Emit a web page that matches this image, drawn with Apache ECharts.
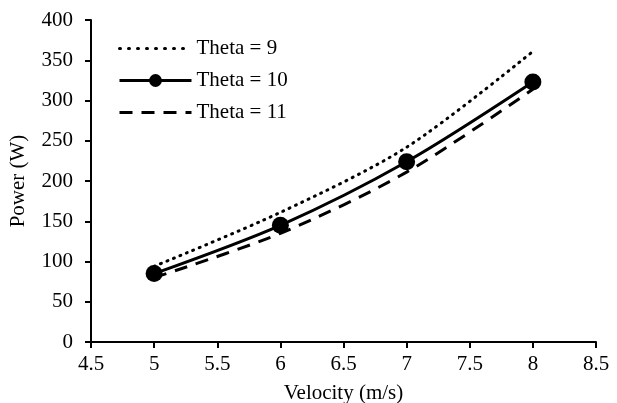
<!DOCTYPE html>
<html>
<head>
<meta charset="utf-8">
<script src="https://cdn.jsdelivr.net/npm/echarts@6/dist/echarts.min.js"></script>
<style>
html,body{margin:0;padding:0;background:#fff;}
#chart{width:617px;height:403px;}
</style>
</head>
<body>
<div id="chart"></div>
<script>
const velocity = [5, 6, 7, 8];
const theta9 = [94, 161, 242, 361];
const theta10 = [85, 145, 224, 323];
const theta11 = [80, 135, 211, 314];
const seriesNames = ['Theta = 9', 'Theta = 10', 'Theta = 11'];

const pairs = (ys) => velocity.map((x, i) => [x, ys[i]]);
const font = 'Liberation Serif';
const hiddenSym = {color: 'rgba(0,0,0,0)', borderWidth: 0, opacity: 0};
const chart = echarts.init(document.getElementById('chart'));
chart.setOption({
  animation: false,
  backgroundColor: '#fff',
  grid: {left: 91, right: 21, top: 20, bottom: 61, containLabel: false, outerBoundsMode: 'none'},
  legend: {
    orient: 'vertical', left: 113, top: 33,
    itemWidth: 72, itemHeight: 16, itemGap: 11,
    textStyle: {fontFamily: font, fontSize: 21, color: '#000'},
    data: [
      {name: seriesNames[0], itemStyle: hiddenSym, lineStyle: {width: 3, type: [1, 8], cap: 'round'}},
      {name: seriesNames[1], lineStyle: {width: 3}},
      {name: seriesNames[2], itemStyle: hiddenSym, lineStyle: {width: 3}}
    ]
  },
  xAxis: {
    type: 'value', min: 4.5, max: 8.5, interval: 0.5,
    name: 'Velocity (m/s)', nameLocation: 'middle', nameGap: 41,
    nameTextStyle: {fontFamily: font, fontSize: 21, color: '#000'},
    axisLine: {lineStyle: {color: '#000', width: 2}},
    axisTick: {show: true, length: 6, lineStyle: {color: '#000', width: 2}},
    axisLabel: {fontFamily: font, fontSize: 21, color: '#000', margin: 12},
    splitLine: {show: false}
  },
  yAxis: {
    type: 'value', min: 0, max: 400, interval: 50,
    name: 'Power (W)', nameLocation: 'middle', nameGap: 62,
    nameTextStyle: {fontFamily: font, fontSize: 21, color: '#000'},
    axisLine: {show: true, lineStyle: {color: '#000', width: 2}},
    axisTick: {show: true, length: 6, lineStyle: {color: '#000', width: 2}},
    axisLabel: {fontFamily: font, fontSize: 21, color: '#000', margin: 18},
    splitLine: {show: false}
  },
  series: [
    {name: seriesNames[0], type: 'line', data: pairs(theta9), smooth: 0.3,
     symbol: 'none', itemStyle: {color: '#000'},
     lineStyle: {color: '#000', width: 3, type: [1, 6], cap: 'round'}},
    {name: seriesNames[1], type: 'line', data: pairs(theta10), smooth: 0.3,
     symbol: 'circle', symbolSize: 17, itemStyle: {color: '#000'},
     lineStyle: {color: '#000', width: 3}},
    {name: seriesNames[2], type: 'line', data: pairs(theta11), smooth: 0.3,
     symbol: 'none', itemStyle: {color: '#000'},
     lineStyle: {color: '#000', width: 3, type: [13, 9]}}
  ]
});
</script>
</body>
</html>
